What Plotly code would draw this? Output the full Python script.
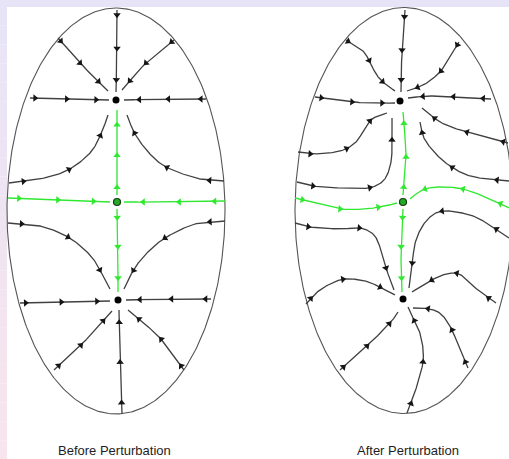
import math
import numpy as np
import plotly.graph_objects as go

W, H = 509, 459

# ---- phase portraits, pixel-space control points (flow direction order) ----
# Each entry: (path control points, approximate arrowhead locations)
before_black = [
    ([(117, 10), (117, 50), (116, 92)], [(117, 15), (117, 49), (116, 80)]),
    ([(58, 38), (80, 63), (108, 91)], [(60, 41), (79, 63), (97, 82)]),
    ([(174, 40), (146, 63), (122, 90)], [(172, 43), (146, 63), (131, 81)]),
    ([(30, 98), (70, 99), (109, 100)], [(35, 98), (66, 99), (96, 100)]),
    ([(206, 99), (165, 99), (124, 100)], [(201, 99), (168, 99), (139, 100)]),
    ([(9, 183), (40, 179), (68, 170), (90, 153), (101, 134), (108, 115)],
     [(24, 182), (69, 170), (100, 135)]),
    ([(224, 181), (200, 179), (168, 168), (150, 154), (135, 134), (127, 115)],
     [(210, 180), (167, 167), (135, 133)]),
    ([(8, 223), (40, 226), (68, 237), (90, 255), (101, 272), (110, 289)],
     [(21, 223), (68, 237), (100, 270)]),
    ([(225, 221), (195, 224), (165, 238), (145, 255), (133, 271), (124, 289)],
     [(210, 222), (165, 238), (133, 270)]),
    ([(20, 303), (65, 302), (110, 301)], [(26, 303), (62, 302), (97, 301)]),
    ([(211, 299), (168, 299), (126, 300)], [(205, 299), (172, 299), (140, 299)]),
    ([(54, 370), (82, 344), (112, 311)], [(58, 366), (81, 345), (104, 322)]),
    ([(122, 414), (120, 360), (119, 310)], [(123, 403), (121, 363), (119, 323)]),
    ([(184, 370), (160, 338), (128, 310)], [(180, 366), (162, 339), (140, 318)]),
]
before_green = [
    ([(8, 198), (60, 200), (110, 202)], [(18, 198), (57, 200), (93, 201)]),
    ([(225, 201), (175, 202), (124, 202)], [(215, 201), (180, 202), (143, 202)]),
    ([(117, 195), (117, 150), (117, 110)], [(117, 188), (117, 155), (117, 125)]),
    ([(117, 209), (118, 250), (118, 292)], [(117, 217), (118, 247), (118, 278)]),
]
before_nodes = [(116, 100), (118, 300)]
before_saddle = [(117, 202)]

after_black = [
    ([(405, 10), (402, 50), (401, 92)], [(404, 17), (402, 50), (400, 80)]),
    ([(346, 40), (362, 50), (370, 62), (376, 74), (384, 83), (395, 91)],
     [(348, 42), (370, 60), (383, 81)]),
    ([(459, 42), (449, 59), (440, 72), (425, 84), (407, 91)],
     [(457, 45), (441, 71), (418, 87)]),
    ([(315, 97), (352, 102), (382, 103), (395, 103)], [(322, 97), (352, 103), (382, 103)]),
    ([(491, 99), (460, 97), (430, 96), (408, 98)], [(483, 99), (453, 97), (423, 96)]),
    ([(298, 152), (315, 154), (340, 151), (355, 143), (364, 130), (372, 119), (387, 113)],
     [(310, 153), (347, 149), (370, 121)]),
    ([(297, 182), (313, 186), (340, 188), (368, 188), (384, 180), (391, 162), (392, 140), (392, 118)],
     [(313, 187), (370, 188), (392, 140)]),
    ([(508, 143), (485, 137), (460, 130), (440, 122), (422, 108)],
     [(503, 143), (467, 133), (433, 121)]),
    ([(509, 181), (497, 180), (470, 176), (450, 166), (435, 153), (424, 138), (420, 122)],
     [(497, 180), (452, 168), (422, 133)]),
    ([(509, 238), (490, 225), (470, 215), (443, 211), (427, 220), (416, 240), (412, 265), (409, 288)],
     [(497, 228), (442, 212), (412, 263)]),
    ([(295, 223), (310, 227), (340, 229), (360, 228), (374, 235), (381, 250), (386, 268), (394, 290)],
     [(308, 227), (359, 228), (386, 268)]),
    ([(306, 304), (316, 293), (330, 284), (345, 279), (365, 281), (382, 288), (395, 295)],
     [(310, 298), (343, 280), (380, 287)]),
    ([(340, 370), (367, 346), (390, 323), (398, 312)], [(343, 367), (368, 347), (390, 324)]),
    ([(407, 413), (414, 395), (423, 362), (421, 337), (414, 320), (408, 307)],
     [(410, 403), (423, 362), (415, 320)]),
    ([(468, 368), (460, 350), (452, 330), (442, 315), (430, 309), (413, 308)],
     [(466, 362), (452, 330), (428, 309)]),
    ([(496, 303), (480, 292), (465, 278), (455, 273), (440, 276), (425, 284), (412, 292)],
     [(487, 300), (457, 273), (432, 281)]),
]
after_green = [
    ([(295, 198), (320, 204), (341, 209), (365, 209), (385, 206), (397, 203)],
     [(303, 199), (340, 208), (378, 207)]),
    ([(512, 209), (490, 199), (463, 189), (440, 187), (425, 189), (416, 194), (410, 199)],
     [(500, 204), (463, 189), (425, 189)]),
    ([(403, 195), (406, 157), (403, 112)], [(404, 188), (407, 157), (405, 124)]),
    ([(403, 209), (401, 250), (402, 292)], [(403, 217), (401, 247), (401, 278)]),
]
after_nodes = [(400, 101), (403, 299)]
after_saddle = [(403, 202)]

# boundary ellipses: centre x, centre y, semi-axis x, semi-axis y
ellipse_cx = [116, 404]
ellipse_cy = [211, 210.5]
ellipse_ax = [109, 109]
ellipse_ay = [203, 203]

panel_titles = ["Before Perturbation", "After Perturbation"]
title_x = [114, 408]

BLACK = "#404040"
GREEN = "#2fe82f"


def densify(pts, n=24):
    """Catmull-Rom spline through the control points."""
    p = np.array(pts, dtype=float)
    if len(p) < 3:
        t = np.linspace(0, 1, n * 2)[:, None]
        return p[0] + (p[1] - p[0]) * t
    ext = np.vstack([2 * p[0] - p[1], p, 2 * p[-1] - p[-2]])
    out = []
    for i in range(1, len(ext) - 2):
        p0, p1, p2, p3 = ext[i - 1], ext[i], ext[i + 1], ext[i + 2]
        for t in np.linspace(0, 1, n, endpoint=False):
            t2, t3 = t * t, t * t * t
            out.append(0.5 * ((2 * p1) + (-p0 + p2) * t
                              + (2 * p0 - 5 * p1 + 4 * p2 - p3) * t2
                              + (-p0 + 3 * p1 - 3 * p2 + p3) * t3))
    out.append(p[-1])
    return np.array(out)


def arrow_marks(curve, arrows):
    xs, ys, angs = [], [], []
    for ax_, ay_ in arrows:
        d = np.hypot(curve[:, 0] - ax_, curve[:, 1] - ay_)
        k = int(np.argmin(d))
        a = max(k - 2, 0)
        b = min(k + 2, len(curve) - 1)
        dx = curve[b, 0] - curve[a, 0]
        dy = curve[b, 1] - curve[a, 1]
        xs.append(curve[k, 0])
        ys.append(curve[k, 1])
        angs.append(math.degrees(math.atan2(dx, -dy)))
    return xs, ys, angs


fig = go.Figure()

# boundary ellipses
for cx, cy, rx, ry in zip(ellipse_cx, ellipse_cy, ellipse_ax, ellipse_ay):
    th = np.linspace(0, 2 * np.pi, 400)
    fig.add_trace(go.Scatter(x=cx + rx * np.cos(th), y=cy + ry * np.sin(th),
                             mode="lines", line=dict(color="#555555", width=1.1),
                             hoverinfo="skip", showlegend=False))

# trajectories
for group, col in [(before_black, BLACK), (after_black, BLACK),
                   (before_green, GREEN), (after_green, GREEN)]:
    for pts, arrows in group:
        c = densify(pts)
        fig.add_trace(go.Scatter(x=c[:, 0], y=c[:, 1], mode="lines",
                                 line=dict(color=col, width=1.3),
                                 hoverinfo="skip", showlegend=False))
        xs, ys, angs = arrow_marks(c, arrows)
        fig.add_trace(go.Scatter(x=xs, y=ys, mode="markers",
                                 marker=dict(symbol="triangle-up", size=6.5,
                                             angle=angs, color=col if col == GREEN else "#151515",
                                             line=dict(width=0)),
                                 hoverinfo="skip", showlegend=False))

# equilibria
nodes = before_nodes + after_nodes
fig.add_trace(go.Scatter(x=[p[0] for p in nodes], y=[p[1] for p in nodes], mode="markers",
                         marker=dict(symbol="circle", size=7, color="#000000"),
                         hoverinfo="skip", showlegend=False))
saddles = before_saddle + after_saddle
fig.add_trace(go.Scatter(x=[p[0] for p in saddles], y=[p[1] for p in saddles], mode="markers",
                         marker=dict(symbol="circle", size=7, color="#22aa22",
                                     line=dict(color="#1a3a1a", width=1.2)),
                         hoverinfo="skip", showlegend=False))

# panel captions
for txt, tx in zip(panel_titles, title_x):
    fig.add_annotation(x=tx, y=459, text=txt, showarrow=False, xanchor="center", yanchor="bottom",
                       yshift=-1, font=dict(family="Liberation Sans, Arial", size=13, color="#1e1e1e"))

# page frame: lavender strip on top, lavender-to-pink strip on the left
shapes = [dict(type="rect", xref="x", yref="y", x0=0, x1=W, y0=0, y1=7,
               fillcolor="rgb(232,228,248)", line=dict(width=0), layer="below")]
n_seg = 24
for i in range(n_seg):
    f = i / (n_seg - 1)
    r = int(232 + (248 - 232) * f)
    g = int(228 + (228 - 228) * f)
    b = int(248 + (236 - 248) * f)
    shapes.append(dict(type="rect", xref="x", yref="y", x0=0, x1=7,
                       y0=7 + i * (H - 7) / n_seg, y1=7 + (i + 1) * (H - 7) / n_seg,
                       fillcolor=f"rgb({r},{g},{b})", line=dict(width=0), layer="below"))

fig.update_layout(
    width=W, height=H, margin=dict(l=0, r=0, t=0, b=0),
    paper_bgcolor="white", plot_bgcolor="white",
    xaxis=dict(range=[0, W], visible=False, fixedrange=True),
    yaxis=dict(range=[H, 0], visible=False, fixedrange=True),
    shapes=shapes,
)

fig.write_html("out.html")
